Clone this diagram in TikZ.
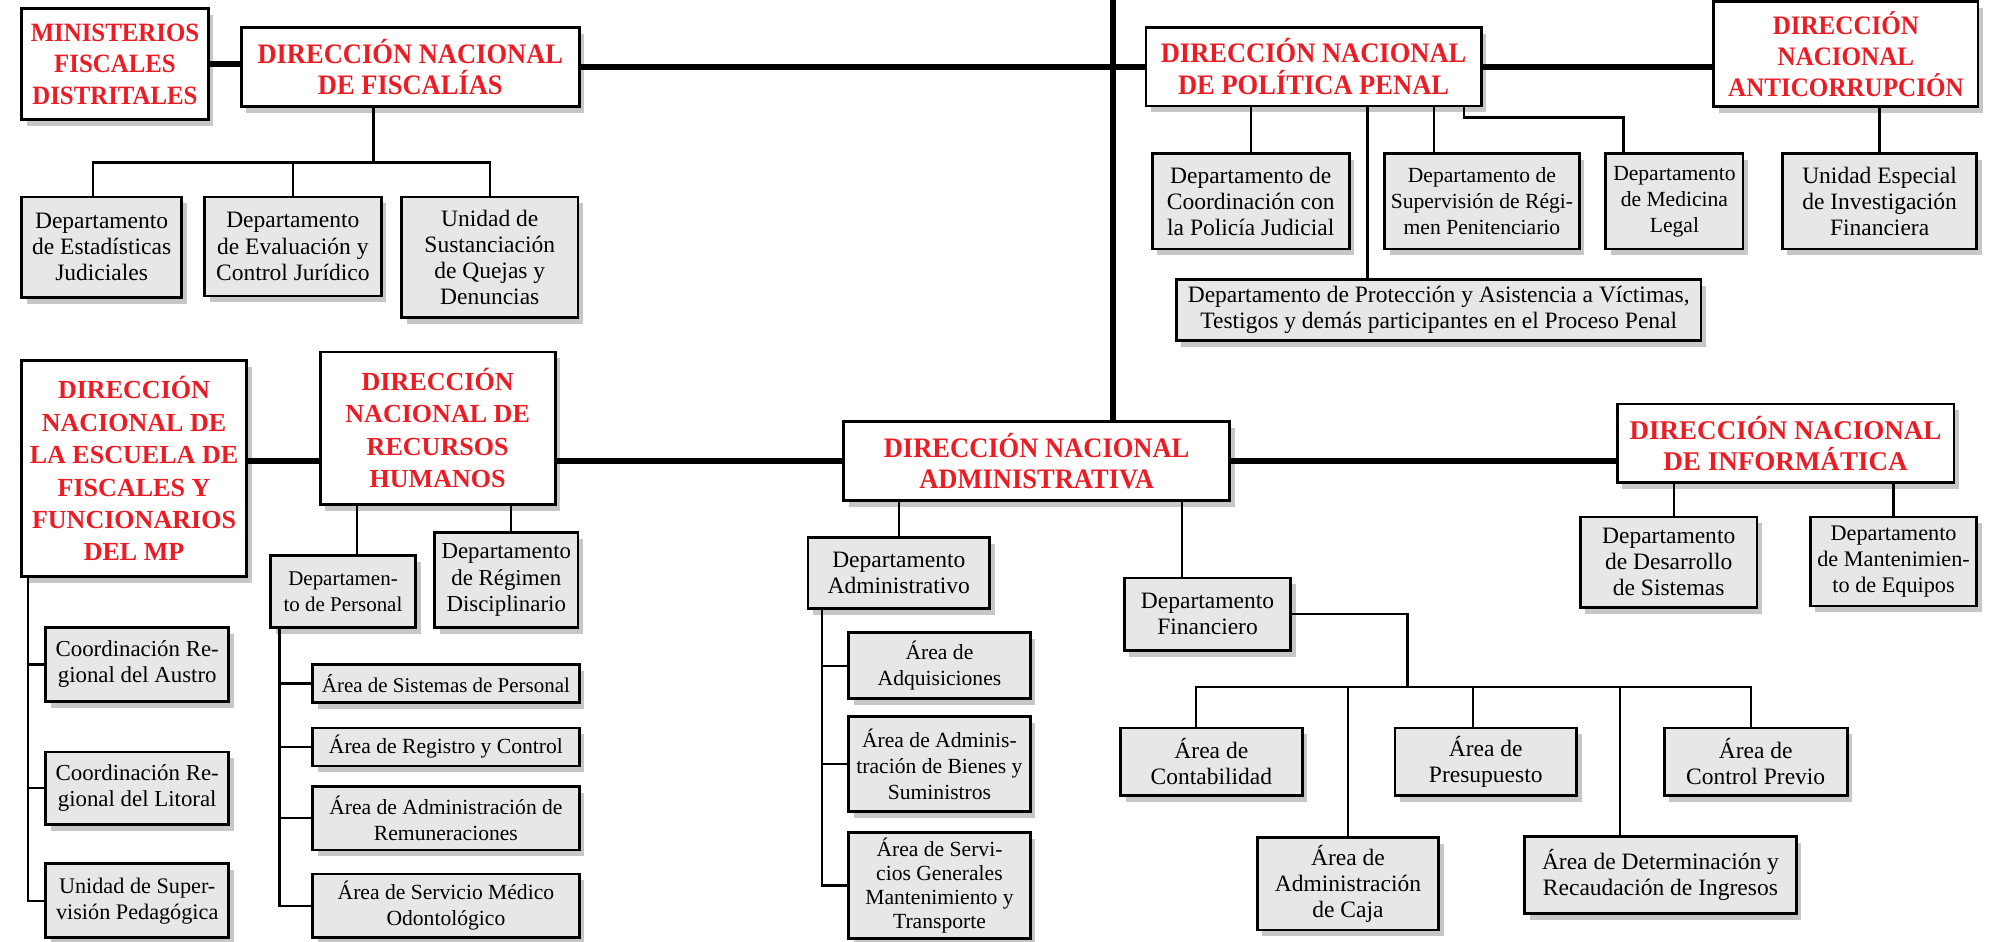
\documentclass[tikz,border=0pt]{standalone}
\usepackage{fontspec}
\setmainfont{Liberation Serif}
\newfontfamily\hdcond[FakeStretch=0.94]{Liberation Serif}
\usepackage{xcolor}
\usepackage{tikz}
\usetikzlibrary{positioning,shadows,calc}

\definecolor{dnred}{RGB}{236,28,36}
\definecolor{dpgray}{RGB}{230,231,232}

\begin{document}
\begin{tikzpicture}[
    x=1pt, y=-1pt,
    bx/.style={draw, line width=2.2pt, align=center, inner sep=2pt,
        drop shadow={shadow xshift=4pt, shadow yshift=-5pt, fill=black!55, opacity=.4}},
    sz/.style 2 args={minimum width=#1pt, minimum height=#2pt},
    hd/.style={bx, fill=white, text=dnred, font=\hdcond\bfseries\fontsize{22.2}{25}\selectfont},
    hdb/.style={bx, fill=white, text=dnred, font=\bfseries\fontsize{20.5}{25.5}\selectfont},
    dp/.style={bx, fill=dpgray, font=\fontsize{18.5}{20.5}\selectfont},
    nar/.style={font=\fontsize{17}{20.5}\selectfont},
    ln/.style={line width=1.8pt},
    tk/.style={line width=5pt},
]
    \useasboundingbox (0,0) rectangle (1568,741);

    % ---------- direcciones nacionales ----------
    \node[hd, sz={147}{87}, font=\hdcond\bfseries\fontsize{20.8}{25}\selectfont] (min) at (90.5,50.5)
        {MINISTERIOS\\FISCALES\\DISTRITALES};
    \node[hd, sz={266}{62.5}] (fis) at (323,52.75) {DIRECCIÓN NACIONAL\\DE FISCALÍAS};
    \node[hd, sz={264}{62}] (pol) at (1034,52.5) {DIRECCIÓN NACIONAL\\DE POLÍTICA PENAL};
    \node[hd, sz={208}{83}, font=\hdcond\bfseries\fontsize{21}{24.5}\selectfont] (anti) at (1453,42.5)
        {DIRECCIÓN\\NACIONAL\\ANTICORRUPCIÓN};
    \node[hdb, sz={177}{170}] (esc) at (105.5,369)
        {DIRECCIÓN\\NACIONAL DE\\LA ESCUELA DE\\FISCALES Y\\FUNCIONARIOS\\DEL MP};
    \node[hdb, sz={185}{120}] (rh) at (344.5,337) {DIRECCIÓN\\NACIONAL DE\\RECURSOS\\HUMANOS};
    \node[hd, sz={304}{62}] (adm) at (816,363) {DIRECCIÓN NACIONAL\\ADMINISTRATIVA};
    \node[hdb, sz={265}{62}, font=\bfseries\fontsize{21.3}{24.8}\selectfont] (inf) at (1405.5,349)
        {DIRECCIÓN NACIONAL\\DE INFORMÁTICA};

    % ---------- fiscalías y política penal ----------
    \node[dp, sz={126}{79}] (est) at (80,194.5) {Departamento\\de Estadísticas\\Judiciales};
    \node[dp, sz={139}{78}] (eva) at (230.5,194) {Departamento\\de Evaluación y\\Control Jurídico};
    \node[dp, sz={139}{95}] (sus) at (385.5,202.5) {Unidad de\\Sustanciación\\de Quejas y\\Denuncias};
    \node[dp, sz={155}{75}] (coo) at (984.5,158.5) {Departamento de\\Coordinación con\\la Policía Judicial};
    \node[dp, nar, sz={153}{75}] (sup) at (1166.5,158.5) {Departamento de\\Supervisión de Régi-\\men Penitenciario};
    \node[dp, nar, sz={108}{75}] (med) at (1318,158.5) {Departamento\\de Medicina\\Legal};
    \node[dp, sz={153}{75}] (uni) at (1479.5,158.5) {Unidad Especial\\de Investigación\\Financiera};
    \node[dp, sz={413}{48}] (pro) at (1132.5,244)
        {Departamento de Protección y Asistencia a Víctimas,\\Testigos y demás participantes en el Proceso Penal};

    % ---------- escuela y recursos humanos ----------
    \node[dp, font=\fontsize{18}{20.5}\selectfont, sz={144}{58}] (cra) at (108,523) {Coordinación Re-\\gional del Austro};
    \node[dp, font=\fontsize{18}{20.5}\selectfont, sz={144}{57}] (crl) at (108,620.5) {Coordinación Re-\\gional del Litoral};
    \node[dp, font=\fontsize{17.5}{20.5}\selectfont, sz={144}{58}] (ups) at (108,709) {Unidad de Super-\\visión Pedagógica};
    \node[dp, font=\fontsize{16.5}{20.5}\selectfont, sz={114}{57}] (per) at (270,465.5) {Departamen-\\to de Personal};
    \node[dp, font=\fontsize{18}{20.5}\selectfont, sz={113}{75}] (reg) at (398.5,456.5) {Departamento\\de Régimen\\Disciplinario};
    \node[dp, font=\fontsize{16.5}{20.5}\selectfont, sz={210}{30}] (as1) at (351,538) {Área de Sistemas de Personal};
    \node[dp, nar, sz={210}{30}] (as2) at (351,588) {Área de Registro y Control};
    \node[dp, nar, sz={210}{50}] (as3) at (351,644) {Área de Administración de\\Remuneraciones};
    \node[dp, nar, sz={210}{50}] (as4) at (351,713) {Área de Servicio Médico\\Odontológico};

    % ---------- administrativa ----------
    \node[dp, sz={143}{56}] (dad) at (707.5,451) {Departamento\\Administrativo};
    \node[dp, nar, sz={143}{52}] (aa1) at (739.5,524) {Área de\\Adquisiciones};
    \node[dp, nar, sz={143}{75}] (aa2) at (739.5,601.5) {Área de Adminis-\\tración de Bienes y\\Suministros};
    \node[dp, font=\fontsize{17}{19}\selectfont, sz={143}{83.5}] (aa3) at (739.5,697)
        {Área de Servi-\\cios Generales\\Mantenimiento y\\Transporte};
    \node[dp, sz={131}{57}] (dfi) at (950.5,483.5) {Departamento\\Financiero};
    \node[dp, sz={143}{53}] (con) at (953.5,599.5) {Área de\\Contabilidad};
    \node[dp, sz={142.5}{73}] (caj) at (1061,695.5) {Área de\\Administración\\de Caja};
    \node[dp, sz={143}{53}] (pre) at (1169.5,599.5) {Área de\\Presupuesto};
    \node[dp, sz={214}{60.5}] (det) at (1307,689) {Área de Determinación y\\Recaudación de Ingresos};
    \node[dp, sz={144}{53}] (cpr) at (1382,599.5) {Área de\\Control Previo};

    % ---------- informática ----------
    \node[dp, sz={139}{71}] (des) at (1313.5,442.5) {Departamento\\de Desarrollo\\de Sistemas};
    \node[dp, font=\fontsize{17.5}{20.5}\selectfont, sz={131}{70}] (man) at (1490.5,442) {Departamento\\de Mantenimien-\\to de Equipos};

    % ---------- líneas gruesas ----------
    \coordinate (top) at (876,-6);
    \draw[tk] (top) -- (top |- adm.north);
    \draw[tk] (min.east) -- (min.east -| fis.west);
    \draw[tk] (fis.east) -- (fis.east -| pol.west);
    \draw[tk] (pol.east) -- (pol.east -| anti.west);
    \draw[tk] (esc.east |- adm.west) -- (adm.west -| rh.west);
    \draw[tk] (rh.east |- adm.west) -- (adm.west);
    \draw[tk] (adm.east) -- (adm.east -| inf.west);

    % ---------- dependencias ----------
    \coordinate (fisbar) at (294,128);
    \draw[ln] (fis.south -| fisbar) -- (fisbar);
    \draw[ln] ([xshift=-7pt]est.north) |- (sus.north |- fisbar) -- (sus.north);
    \draw[ln] (eva.north) -- (eva.north |- fisbar);

    \draw[ln] (coo.north) -- (coo.north |- pol.south);
    \draw[ln] ([xshift=-56pt]pro.north) -- ([xshift=-56pt]pro.north |- pol.south);
    \draw[ln] ([xshift=-38pt]sup.north) -- ([xshift=-38pt]sup.north |- pol.south);
    \draw[ln] ([xshift=-15pt]pol.south east) -- ++(0,8) -| ([xshift=-40pt]med.north);
    \draw[ln] (uni.north) -- (uni.north |- anti.south);

    \coordinate (esctr) at ([xshift=6pt]esc.south west);
    \draw[ln] (esctr) |- (ups.west);
    \foreach \n in {cra,crl}
        \draw[ln] (\n.west) -- (\n.west -| esctr);

    \draw[ln] ([xshift=11pt]per.north) -- ([xshift=11pt]per.north |- rh.south);
    \draw[ln] ([xshift=4pt]reg.north) -- ([xshift=4pt]reg.north |- rh.south);
    \coordinate (pertr) at ([xshift=8pt]per.south west);
    \draw[ln] (pertr) |- (as4.west);
    \foreach \n in {as1,as2,as3}
        \draw[ln] (\n.west) -- (\n.west -| pertr);

    \draw[ln] (dad.north) -- (dad.north |- adm.south);
    \draw[ln] ([xshift=-20pt]dfi.north) -- ([xshift=-20pt]dfi.north |- adm.south);
    \coordinate (dadtr) at ([xshift=12pt]dad.south west);
    \draw[ln] (dadtr) |- (aa3.west);
    \foreach \n in {aa1,aa2}
        \draw[ln] (\n.west) -- (\n.west -| dadtr);

    \coordinate (finbar) at (1108,541);
    \draw[ln] (dfi.east) -| (finbar);
    \draw[ln] ([xshift=-12pt]con.north) |- ([xshift=-4pt]cpr.north |- finbar) -- ([xshift=-4pt]cpr.north);
    \draw[ln] (caj.north) -- (caj.north |- finbar);
    \draw[ln] ([xshift=-10pt]pre.north) -- ([xshift=-10pt]pre.north |- finbar);
    \draw[ln] ([xshift=-32pt]det.north) -- ([xshift=-32pt]det.north |- finbar);

    \draw[ln] ([xshift=4pt]des.north) -- ([xshift=4pt]des.north |- inf.south);
    \draw[ln] (man.north) -- (man.north |- inf.south);
\end{tikzpicture}
\end{document}
